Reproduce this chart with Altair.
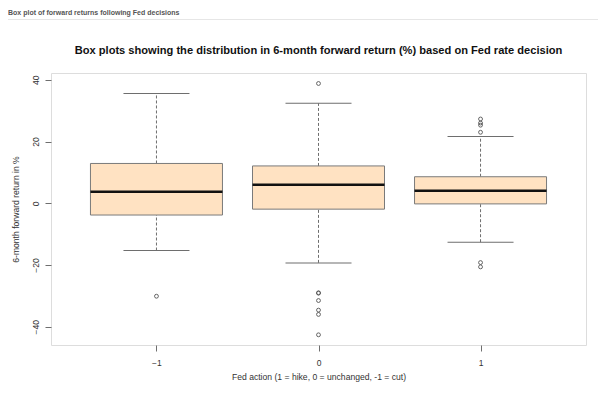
import altair as alt
import pandas as pd

groups = [-1, 0, 1]
whisker_lo = [-15.3, -19.3, -12.6]
q1 = [-3.8, -1.9, -0.2]
median = [3.7, 6.0, 4.1]
q3 = [12.9, 12.1, 8.6]
whisker_hi = [35.6, 32.4, 21.6]

outlier_group = [-1, 0, 0, 0, 0, 0, 0, 0, 1, 1, 1, 1, 1, 1]
outlier_value = [-30.1, 38.8, -29.1, -29.0, -31.5, -34.6, -36.0, -42.6,
                 27.3, 26.0, 25.3, 23.0, -19.2, -20.6]

header_text = "Box plot of forward returns following Fed decisions"
title_text = "Box plots showing the distribution in 6-month forward return (%) based on Fed rate decision"
x_title = "Fed action (1 = hike, 0 = unchanged, -1 = cut)"
y_title = "6-month forward return in %"

stats = pd.DataFrame({
    "g": groups, "lo": whisker_lo, "q1": q1, "med": median,
    "q3": q3, "hi": whisker_hi,
})
outl = pd.DataFrame({"g": outlier_group, "v": outlier_value})

FONT = "Liberation Sans"
GRAY = "#6e6e6e"

xscale = alt.Scale(domain=[-1.62, 1.62], nice=False, zero=False)
yscale = alt.Scale(domain=[-45.9, 42.2], nice=False, zero=False)

xaxis = alt.Axis(values=groups, format="d", title=x_title, domain=False, grid=False,
                 tickSize=6, tickColor=GRAY, labelFont=FONT, labelFontSize=8.5,
                 labelColor="#333", labelPadding=7, titleFont=FONT, titleFontSize=8.6,
                 titleFontWeight="normal", titleColor="#333", titlePadding=6)
yaxis = alt.Axis(values=[-40, -20, 0, 20, 40], title=y_title, domain=False, grid=False,
                 tickSize=6, tickColor=GRAY, labelFont=FONT, labelFontSize=8.5,
                 labelColor="#333", labelAngle=-90, labelPadding=5,
                 titleFont=FONT, titleFontSize=8.6, titleFontWeight="normal",
                 titleColor="#333", titlePadding=11)

base = alt.Chart(stats)

wl = base.mark_rule(color=GRAY, strokeDash=[3, 2], strokeWidth=1).encode(
    x=alt.X("g:Q", scale=xscale, axis=xaxis),
    y=alt.Y("lo:Q", scale=yscale, axis=yaxis),
    y2="q1:Q",
)
wh = base.mark_rule(color=GRAY, strokeDash=[3, 2], strokeWidth=1).encode(
    x=alt.X("g:Q", scale=xscale), y=alt.Y("q3:Q", scale=yscale), y2="hi:Q")
cap_lo = base.mark_tick(orient="horizontal", size=66, thickness=1, color=GRAY, opacity=1).encode(
    x=alt.X("g:Q", scale=xscale), y=alt.Y("lo:Q", scale=yscale))
cap_hi = base.mark_tick(orient="horizontal", size=66, thickness=1, color=GRAY, opacity=1).encode(
    x=alt.X("g:Q", scale=xscale), y=alt.Y("hi:Q", scale=yscale))
box = base.mark_bar(size=132, color="#FFE2C2", stroke="#7a7a7a", strokeWidth=1).encode(
    x=alt.X("g:Q", scale=xscale), y=alt.Y("q1:Q", scale=yscale), y2="q3:Q")
med = base.mark_tick(orient="horizontal", size=132, thickness=2.5, color="#111", opacity=1).encode(
    x=alt.X("g:Q", scale=xscale), y=alt.Y("med:Q", scale=yscale))
pts = alt.Chart(outl).mark_point(shape="circle", filled=False, size=15, color="#555",
                                 strokeWidth=0.9, opacity=1).encode(
    x=alt.X("g:Q", scale=xscale), y=alt.Y("v:Q", scale=yscale))

header = alt.Chart(pd.DataFrame({"t": [header_text]})).mark_text(
    align="left", baseline="top", font=FONT, fontSize=7, fontWeight="bold",
    color="#555").encode(text="t:N", x=alt.value(-43), y=alt.value(-64.5))
hline = alt.Chart(pd.DataFrame({"t": [0]})).mark_rule(color="#e6e6e6", strokeWidth=1).encode(
    x=alt.value(-44), x2=alt.value(553), y=alt.value(-53.5))
title = alt.Chart(pd.DataFrame({"t": [title_text]})).mark_text(
    align="center", baseline="middle", font=FONT, fontSize=11.1, fontWeight="bold",
    color="#111").encode(text="t:N", x=alt.value(267.5), y=alt.value(-22))

chart = alt.layer(header, hline, title, wl, wh, cap_lo, cap_hi, box, med, pts).properties(
    width=535, height=272,
    autosize=alt.AutoSizeParams(type="none"),
    padding={"left": 43, "top": 65, "right": 12, "bottom": 46},
).configure_view(stroke=GRAY, strokeWidth=1).configure(background="white")

chart.save("out.html", embed_options={"renderer": "svg", "actions": False})
